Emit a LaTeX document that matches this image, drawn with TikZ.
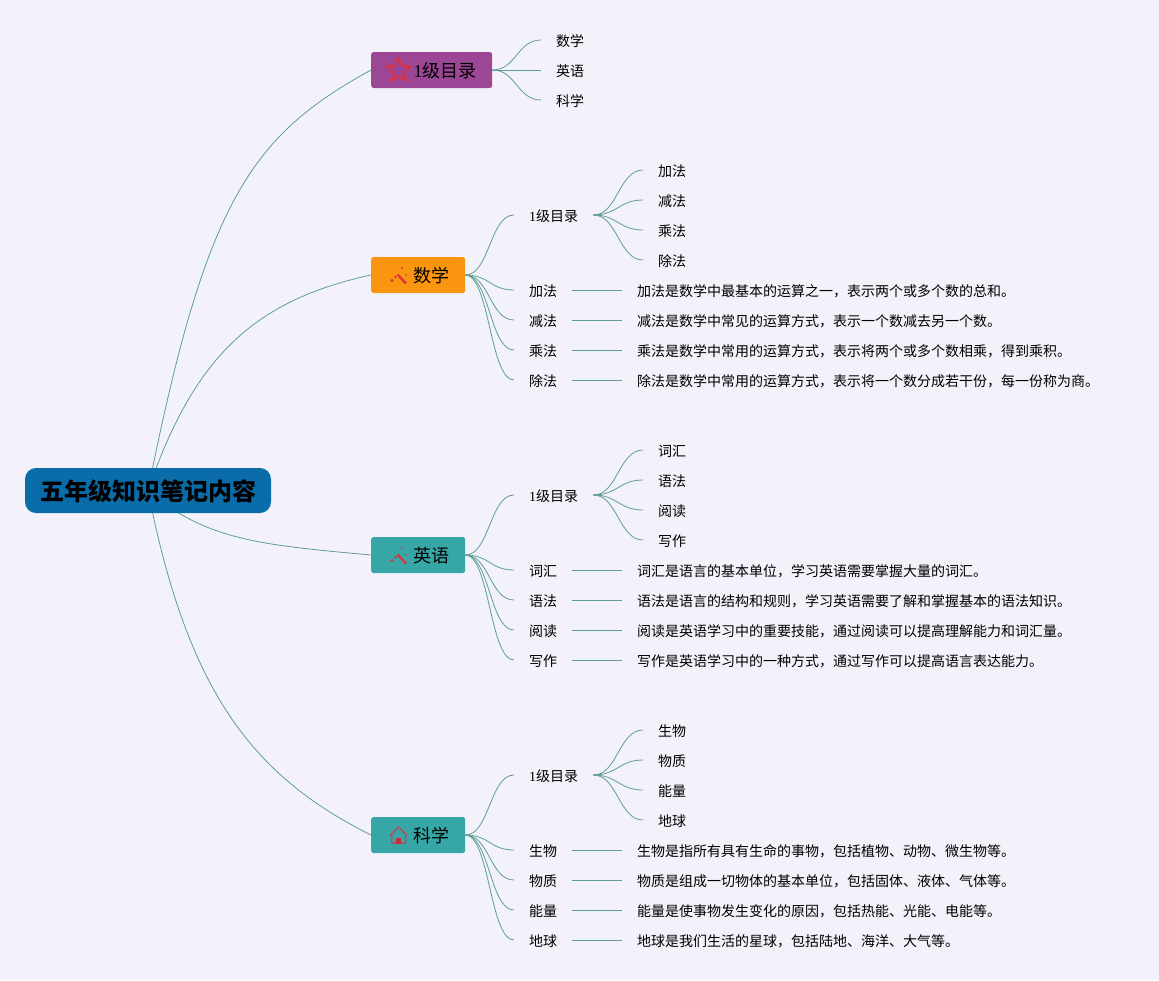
\documentclass[tikz,border=0pt]{standalone}
\usepackage{fontspec}
\setmainfont{Noto Sans CJK SC}
\newfontfamily\onefont{Liberation Serif}
\usetikzlibrary{backgrounds,calc}
\definecolor{pagebg}{HTML}{F3F2FA}
\definecolor{linkc}{HTML}{5E9E96}
\definecolor{rootc}{HTML}{0A6DAA}
\definecolor{purplec}{HTML}{9C4696}
\definecolor{orangec}{HTML}{F9950F}
\definecolor{tealc}{HTML}{37A6A6}
\definecolor{iconred}{HTML}{E0303C}
\tikzset{
  x=1pt,y=-1pt,
  link/.style={draw=linkc,line width=0.8pt},
  leaf/.style={anchor=west,inner xsep=15pt,inner ysep=0pt,text height=14pt,text depth=1pt,font=\fontsize{14}{16}\selectfont},
  mainbox/.style={anchor=west,rounded corners=2.5pt,inner sep=0pt,minimum height=36pt,text height=15pt,text depth=0pt,text=black,font=\fontsize{18}{20}\selectfont},
  rootbox/.style={fill=rootc,rounded corners=11pt,inner sep=0pt,minimum width=246pt,minimum height=45pt,text height=20pt,text depth=0pt,font=\fontsize{24}{26}\selectfont\bfseries},
}
\newcommand{\one}{{\onefont 1}}
\newcommand{\mtitle}[2]{\makebox[#1pt][l]{\hspace{42.5pt}#2}}
\newcommand{\sw}[2]{\draw[link] (#1.east) .. controls +(24,0) and +(-24,0) .. (#2.west);}
% id, y, colour, title, box width, four sub-leaves (name/sentence list)
\newcommand{\subject}[6]{%
  \node[mainbox,fill=#3,minimum width=#5pt] (#1) at (371,#2) {\mtitle{#5}{#4}};
  \node[leaf] (#1-t) at (514,#2-60) {\one 级目录};
  \begin{pgfonlayer}{background}\sw{#1}{#1-t}\end{pgfonlayer}
  \foreach \i/\l/\s [evaluate=\i as \ly using #2+15+30*(\i-1), evaluate=\i as \ty using #2-105+30*(\i-1)] in {#6}{
    \node[leaf] (#1-s\i) at (643,\ty) {\l};
    \node[leaf] (#1-l\i) at (514,\ly) {\l};
    \node[leaf] (#1-d\i) at (622,\ly) {\s};
    \begin{pgfonlayer}{background}
      \sw{#1-t}{#1-s\i}
      \sw{#1}{#1-l\i}
      \draw[link] (#1-l\i.east) -- (#1-d\i.west);
    \end{pgfonlayer}
  }
}
\begin{document}
\begin{tikzpicture}
\begin{pgfonlayer}{background}
  \fill[pagebg] (0,0) rectangle (1159,980);
\end{pgfonlayer}
\useasboundingbox (0,0) rectangle (1159,980);
\node[rootbox] (root) at (148,490.5) {五年级知识笔记内容};

% top branch
\node[mainbox,fill=purplec,minimum width=121pt] (m0) at (371,70) {\mtitle{121}{\one 级目录}};
\node[leaf] (m0-a) at (541,40) {数学};
\node[leaf] (m0-b) at (541,70) {英语};
\node[leaf] (m0-c) at (541,100) {科学};
\begin{pgfonlayer}{background}
  \sw{m0}{m0-a}\sw{m0}{m0-b}\sw{m0}{m0-c}
\end{pgfonlayer}

\subject{ma}{275}{orangec}{数学}{94}{
  1/加法/加法是数学中最基本的运算之一，表示两个或多个数的总和。,
  2/减法/减法是数学中常见的运算方式，表示一个数减去另一个数。,
  3/乘法/乘法是数学中常用的运算方式，表示将两个或多个数相乘，得到乘积。,
  4/除法/{除法是数学中常用的运算方式，表示将一个数分成若干份，每一份称为商。}}
\subject{en}{555}{tealc}{英语}{94}{
  1/词汇/词汇是语言的基本单位，学习英语需要掌握大量的词汇。,
  2/语法/语法是语言的结构和规则，学习英语需要了解和掌握基本的语法知识。,
  3/阅读/阅读是英语学习中的重要技能，通过阅读可以提高理解能力和词汇量。,
  4/写作/写作是英语学习中的一种方式，通过写作可以提高语言表达能力。}
\subject{sc}{835}{tealc}{科学}{94}{
  1/生物/生物是指所有具有生命的事物，包括植物、动物、微生物等。,
  2/物质/物质是组成一切物体的基本单位，包括固体、液体、气体等。,
  3/能量/能量是使事物发生变化的原因，包括热能、光能、电能等。,
  4/地球/地球是我们生活的星球，包括陆地、海洋、大气等。}

% root connectors
\begin{pgfonlayer}{background}
  \draw[link] (root.center) .. controls (206,200) and (251,136) .. (m0.west);
  \draw[link] (root.center) .. controls (193,360) and (251,301) .. (ma.west);
  \draw[link] (root.center) .. controls (205,540) and (261,545) .. (en.west);
  \draw[link] (root.center) .. controls (188,695) and (255,777) .. (sc.west);
\end{pgfonlayer}

% icons
\draw[iconred,line width=1.8pt,line join=round]
  (398.5,58) -- (401.8,65.5) -- (410.5,66.5) -- (404,72.2) -- (406,80.5) -- (398.5,76.2) -- (391,80.5) -- (393,72.2) -- (386.5,66.5) -- (395.2,65.5) -- cycle;
\foreach \cy in {276,556}{
  \draw[iconred,line width=2.3pt] (397.5,\cy-1.5) -- (406,\cy+7.5);
  \fill[iconred] (392,\cy+4.5) circle (1.6pt) (395.5,\cy+1) circle (1.4pt) (402,\cy-8) circle (1pt) (406,\cy-1) circle (1pt);
}
\draw[draw=iconred!70!tealc,line width=1.5pt,line join=round] (390,835.5) -- (398.5,827) -- (407,835.5) (391.5,834.5) -- (391.5,843) -- (405.5,843) -- (405.5,834.5);
\fill[iconred!90!black] (396,843.5) rectangle (401,837.5);
\end{tikzpicture}
\end{document}
